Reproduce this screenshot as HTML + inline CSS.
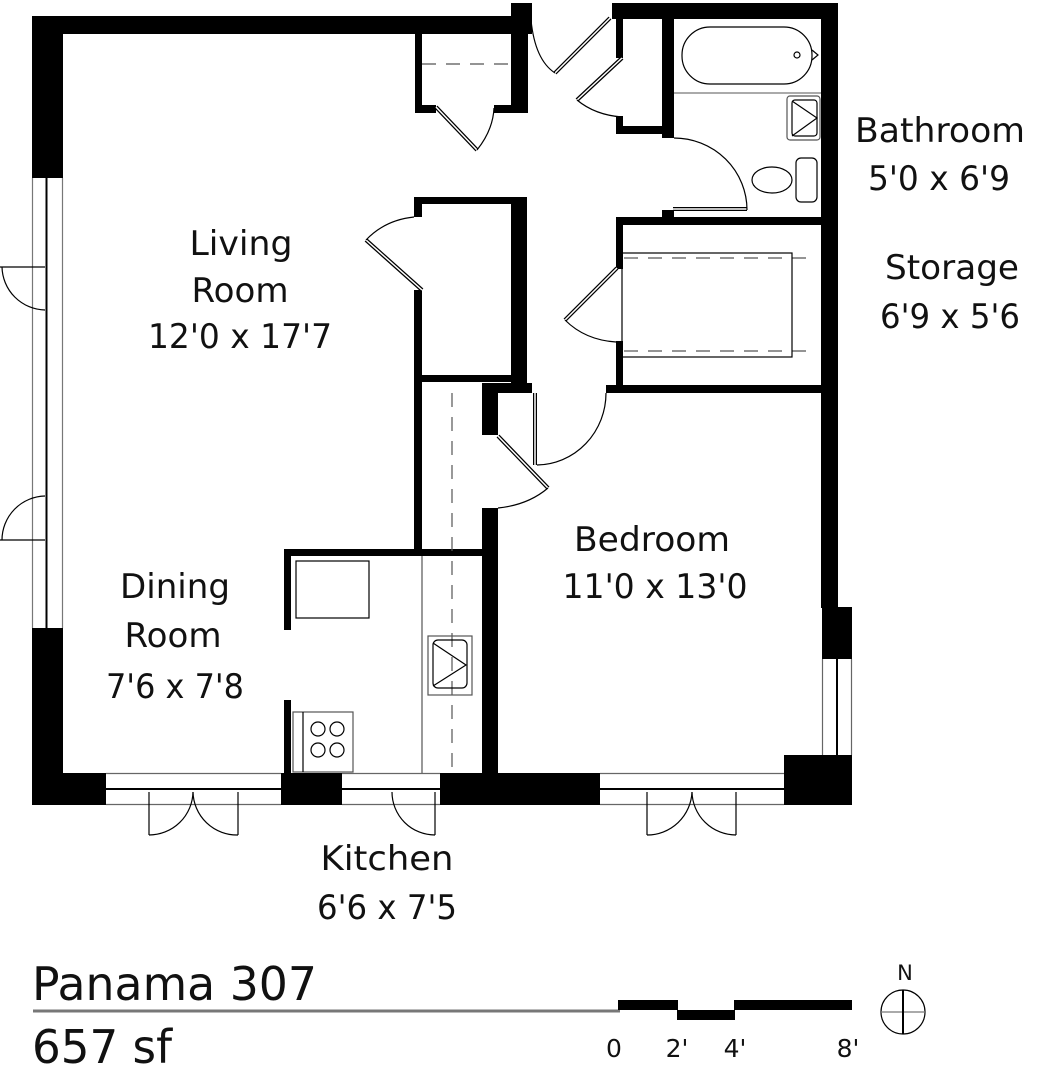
<!DOCTYPE html>
<html><head><meta charset="utf-8"><style>
html,body{margin:0;padding:0;background:#fff;}
svg{display:block;}
text{font-family:"DejaVu Sans","Liberation Sans",sans-serif;fill:#111;}
</style></head><body>
<svg width="1051" height="1080" viewBox="0 0 1051 1080" xmlns="http://www.w3.org/2000/svg">
<g fill="#000" stroke="none">
<rect x="32" y="16" width="496" height="18"/>
<rect x="511" y="3" width="21" height="31"/>
<rect x="32" y="16" width="31" height="162"/>
<rect x="32" y="628" width="31" height="177"/>
<rect x="32" y="773" width="74" height="32"/>
<rect x="281" y="773" width="61" height="32"/>
<rect x="440" y="773" width="160" height="32"/>
<rect x="784" y="755" width="68" height="50"/>
<rect x="821" y="3" width="17" height="605"/>
<rect x="822" y="607" width="30" height="52"/>
<rect x="838" y="755" width="14" height="50"/>
<rect x="612" y="3" width="226" height="16"/>
<rect x="616" y="3" width="7" height="55"/>
<rect x="616" y="116" width="7" height="18"/>
<rect x="616" y="126" width="57" height="8"/>
<rect x="662" y="19" width="12" height="119"/>
<rect x="662" y="210" width="12" height="15"/>
<rect x="616" y="217" width="222" height="8"/>
<rect x="616" y="217" width="7" height="52"/>
<rect x="616" y="341" width="7" height="52"/>
<rect x="606" y="385" width="232" height="8"/>
<rect x="415" y="34" width="7" height="79"/>
<rect x="511" y="34" width="17" height="79"/>
<rect x="415" y="105" width="21" height="8"/>
<rect x="494" y="105" width="34" height="8"/>
<rect x="414" y="197" width="113" height="7"/>
<rect x="414" y="197" width="8" height="20"/>
<rect x="414" y="290" width="8" height="259"/>
<rect x="511" y="197" width="16" height="196"/>
<rect x="414" y="375" width="97" height="7"/>
<rect x="482" y="383" width="50" height="10"/>
<rect x="482" y="383" width="16" height="52"/>
<rect x="482" y="508" width="16" height="265"/>
<rect x="284" y="549" width="198" height="7"/>
<rect x="284" y="549" width="7" height="81"/>
<rect x="284" y="700" width="7" height="73"/>
</g>
<g fill="none" stroke="#000" stroke-width="1.2">
<line x1="32.5" y1="178" x2="32.5" y2="628" stroke="#777"/>
<line x1="46.5" y1="178" x2="46.5" y2="628" stroke-width="2"/>
<line x1="62.5" y1="178" x2="62.5" y2="628" stroke="#777"/>
<line x1="0" y1="267" x2="45" y2="267"/><path d="M2 267 A44 44 0 0 0 45 310"/>
<line x1="0" y1="540" x2="45" y2="540"/><path d="M2 540 A44 44 0 0 1 45 496"/>
<g stroke="#666"><line x1="106" y1="773.5" x2="281" y2="773.5"/><line x1="106" y1="804.5" x2="281" y2="804.5"/>
<line x1="342" y1="773.5" x2="440" y2="773.5"/><line x1="342" y1="804.5" x2="440" y2="804.5"/>
<line x1="600" y1="773.5" x2="784" y2="773.5"/><line x1="600" y1="804.5" x2="784" y2="804.5"/>
<line x1="822.5" y1="659" x2="822.5" y2="755"/><line x1="851.5" y1="659" x2="851.5" y2="755"/></g>
<line x1="106" y1="789" x2="281" y2="789" stroke-width="2"/>
<line x1="342" y1="789" x2="440" y2="789" stroke-width="2"/>
<line x1="600" y1="789" x2="784" y2="789" stroke-width="2"/>
<line x1="837" y1="659" x2="837" y2="755" stroke-width="2"/>
<line x1="149" y1="792" x2="149" y2="835"/><path d="M149 835 A44 44 0 0 0 193 792"/>
<line x1="238" y1="792" x2="238" y2="835"/><path d="M238 835 A44 44 0 0 1 193 792"/>
<line x1="647" y1="792" x2="647" y2="835"/><path d="M647 835 A45 45 0 0 0 692 792"/>
<line x1="736" y1="792" x2="736" y2="835"/><path d="M736 835 A44 44 0 0 1 692 792"/>
<line x1="435" y1="792" x2="435" y2="835"/><path d="M392 792 A43 43 0 0 0 435 835"/>
<g stroke-width="4"><line x1="555" y1="73" x2="610" y2="18"/><line x1="577" y1="100" x2="622" y2="58"/>
<line x1="436" y1="107" x2="477" y2="150"/><line x1="422" y1="290" x2="366" y2="240"/>
<line x1="617" y1="268" x2="565" y2="320"/><line x1="498" y1="436" x2="548" y2="488"/>
<line x1="535" y1="393" x2="535" y2="465"/><line x1="673" y1="209" x2="747" y2="209"/></g>
<g stroke="#fff" stroke-width="1.5"><line x1="555" y1="73" x2="610" y2="18"/><line x1="577" y1="100" x2="622" y2="58"/>
<line x1="436" y1="107" x2="477" y2="150"/><line x1="422" y1="290" x2="366" y2="240"/>
<line x1="617" y1="268" x2="565" y2="320"/><line x1="498" y1="436" x2="548" y2="488"/>
<line x1="535" y1="393" x2="535" y2="465"/><line x1="673" y1="209" x2="747" y2="209"/></g>
<path d="M531 20 Q535 60 555 73"/>
<path d="M577 100 Q595 115 622 117"/>
<path d="M477 150 Q493 130 494 108"/>
<path d="M366 240 Q385 220 414 217"/>
<path d="M565 320 Q585 340 616 342"/>
<path d="M548 488 Q528 505 498 508"/>
<path d="M537 465 A70 72 0 0 0 606 393"/>
<path d="M674 138 A73 72 0 0 1 747 210"/>
<g stroke="#555" stroke-dasharray="14,10"><line x1="422" y1="64" x2="511" y2="64"/>
<line x1="452" y1="393" x2="452" y2="773"/>
<line x1="624" y1="258" x2="814" y2="258"/><line x1="624" y1="351" x2="814" y2="351"/></g>
<rect x="622" y="253" width="170" height="104"/>
<rect x="682" y="27" width="130" height="57" rx="28"/>
<circle cx="797" cy="55" r="3"/><path d="M812 50 L818 55 L812 60"/>
<line x1="674" y1="93" x2="821" y2="93" stroke="#777"/>
<rect x="787" y="96" width="33" height="44" rx="3" stroke="#555"/>
<rect x="792" y="100" width="25" height="36" rx="3"/>
<path d="M792 101 L817 118 L792 136"/>
<ellipse cx="772" cy="180" rx="20" ry="13"/>
<rect x="796" y="158" width="21" height="44" rx="5"/>
<line x1="422" y1="556" x2="422" y2="773" stroke="#555"/>
<rect x="296" y="561" width="73" height="57"/>
<rect x="428" y="636" width="44" height="59" stroke="#555"/>
<rect x="433" y="640" width="34" height="48" rx="5"/>
<path d="M433 643 L466 665 L433 686"/>
<rect x="293" y="712" width="60" height="60" stroke="#555"/>
<line x1="303" y1="712" x2="303" y2="772"/>
<circle cx="318" cy="729" r="7"/><circle cx="337" cy="729" r="7"/>
<circle cx="318" cy="750" r="7"/><circle cx="337" cy="750" r="7"/>
<line x1="33" y1="1011" x2="620" y2="1011" stroke="#777" stroke-width="3"/>
<circle cx="903" cy="1012" r="22"/>
<line x1="881" y1="1012" x2="925" y2="1012" stroke="#777"/>
<line x1="903" y1="990" x2="903" y2="1034" stroke-width="2"/>
</g>
<g fill="#000"><rect x="618" y="1000" width="60" height="10"/><rect x="677" y="1010" width="58" height="10"/><rect x="734" y="1000" width="118" height="10"/></g>
<g font-size="34" text-anchor="middle">
<text x="241" y="255" textLength="103" lengthAdjust="spacingAndGlyphs">Living</text><text x="240" y="302" textLength="97" lengthAdjust="spacingAndGlyphs">Room</text><text x="240" y="348" textLength="184" lengthAdjust="spacingAndGlyphs">12'0 x 17'7</text>
<text x="175" y="598" textLength="110" lengthAdjust="spacingAndGlyphs">Dining</text><text x="173" y="647" textLength="97" lengthAdjust="spacingAndGlyphs">Room</text><text x="175" y="698" textLength="138" lengthAdjust="spacingAndGlyphs">7'6 x 7'8</text>
<text x="652" y="551" textLength="156" lengthAdjust="spacingAndGlyphs">Bedroom</text><text x="655" y="598" textLength="185" lengthAdjust="spacingAndGlyphs">11'0 x 13'0</text>
<text x="387" y="870" textLength="133" lengthAdjust="spacingAndGlyphs">Kitchen</text><text x="387" y="919" textLength="140" lengthAdjust="spacingAndGlyphs">6'6 x 7'5</text>
<text x="940" y="142" textLength="170" lengthAdjust="spacingAndGlyphs">Bathroom</text><text x="939" y="190" textLength="142" lengthAdjust="spacingAndGlyphs">5'0 x 6'9</text>
<text x="952" y="279" textLength="134" lengthAdjust="spacingAndGlyphs">Storage</text><text x="950" y="328" textLength="140" lengthAdjust="spacingAndGlyphs">6'9 x 5'6</text>
</g>
<text x="32" y="1000" font-size="46" textLength="285" lengthAdjust="spacingAndGlyphs">Panama 307</text>
<text x="32" y="1063" font-size="46" textLength="140" lengthAdjust="spacingAndGlyphs">657 sf</text>
<g font-size="25" text-anchor="middle">
<text x="614" y="1057">0</text><text x="677" y="1057">2'</text><text x="735" y="1057">4'</text><text x="848" y="1057">8'</text>
<text x="905" y="980" font-size="21">N</text>
</g>
</svg>
</body></html>
